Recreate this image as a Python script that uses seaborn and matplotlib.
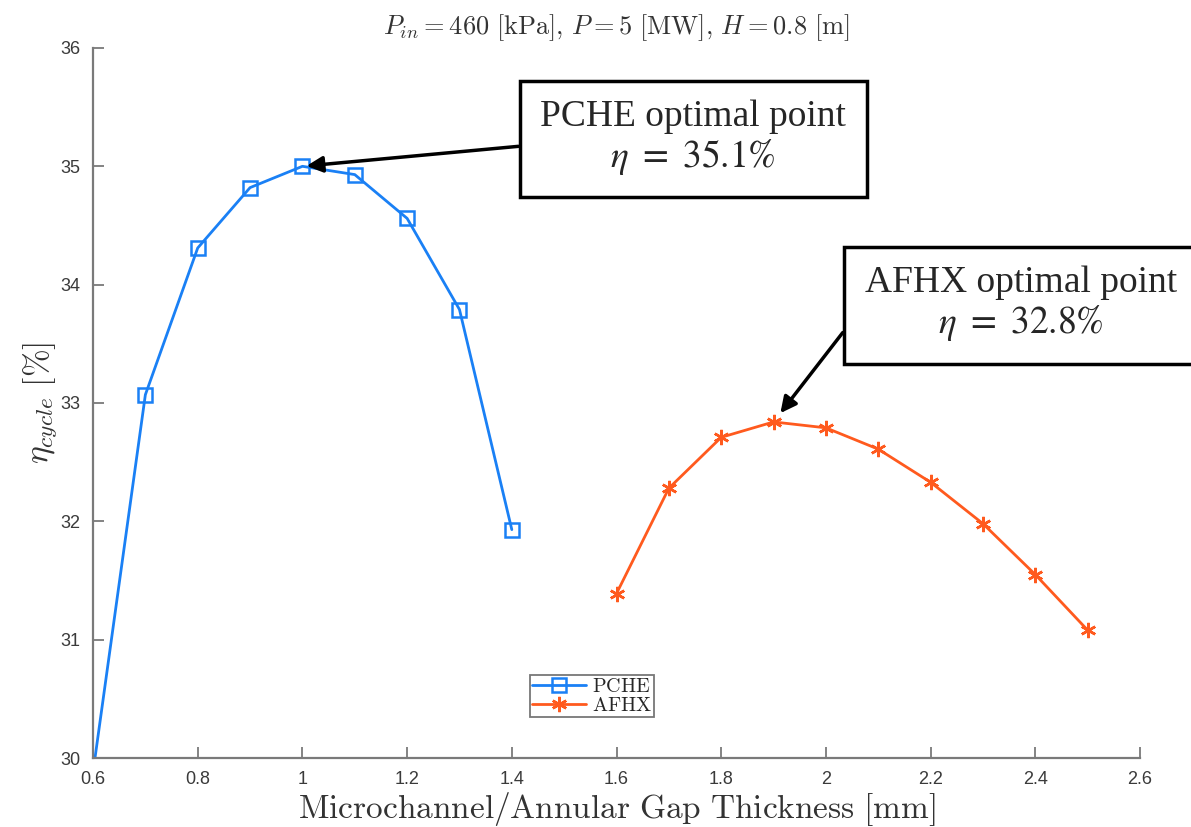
import matplotlib
matplotlib.use("Agg")
import matplotlib.pyplot as plt
import seaborn as sns
import pandas as pd

# Data
pche_x = [0.6, 0.7, 0.8, 0.9, 1.0, 1.1, 1.2, 1.3, 1.4]
pche_y = [29.88, 33.07, 34.31, 34.82, 35.00, 34.93, 34.56, 33.79, 31.93]
afhx_x = [1.6, 1.7, 1.8, 1.9, 2.0, 2.1, 2.2, 2.3, 2.4, 2.5]
afhx_y = [31.39, 32.28, 32.71, 32.84, 32.79, 32.61, 32.33, 31.98, 31.55, 31.08]
x_ticks = [0.6, 0.8, 1.0, 1.2, 1.4, 1.6, 1.8, 2.0, 2.2, 2.4, 2.6]
x_ticklabels = ["0.6", "0.8", "1", "1.2", "1.4", "1.6", "1.8", "2", "2.2", "2.4", "2.6"]
y_ticks = [30, 31, 32, 33, 34, 35, 36]

sns.set_theme(style="white")
plt.rcParams["mathtext.fontset"] = "cm"
plt.rcParams["font.family"] = ["Liberation Sans", "DejaVu Sans"]

pche_color = "#1a80f5"
afhx_color = "#ff5a1e"
axis_color = "#7a7a7a"

fig = plt.figure(figsize=(11.91, 8.27), dpi=100)
ax = fig.add_axes([0.0781, 0.0834, 0.8791, 0.8586])

df_p = pd.DataFrame({"x": pche_x, "y": pche_y})
df_a = pd.DataFrame({"x": afhx_x, "y": afhx_y})
sns.lineplot(data=df_p, x="x", y="y", ax=ax, color=pche_color, lw=2.0,
             marker="s", markersize=10, markerfacecolor="none",
             markeredgecolor=pche_color, markeredgewidth=1.8, label="PCHE")
sns.lineplot(data=df_a, x="x", y="y", ax=ax, color=afhx_color, lw=2.0,
             marker=(6, 2, 0), markersize=11, markeredgecolor=afhx_color,
             markeredgewidth=1.8, label="AFHX")

ax.set_xlim(0.6, 2.6)
ax.set_ylim(30, 36)
ax.set_xticks(x_ticks)
ax.set_xticklabels(x_ticklabels)
ax.set_yticks(y_ticks)

for s in ["top", "right"]:
    ax.spines[s].set_visible(False)
for s in ["left", "bottom"]:
    ax.spines[s].set_color(axis_color)
    ax.spines[s].set_linewidth(1.6)
ax.tick_params(axis="both", direction="in", length=8, width=1.3,
               color=axis_color, labelcolor="#3a3a3a", labelsize=13, pad=9,
               left=True, bottom=True)

ax.set_xlabel(r"$\mathrm{Microchannel/Annular\ Gap\ Thickness\ [mm]}$",
              fontsize=24, color="#333333", labelpad=2)
ax.set_ylabel(r"$\eta_{cycle}\ \mathrm{[\%]}$", fontsize=24, color="#333333",
              labelpad=1)
ax.set_title(r"$P_{in} = 460\ \mathrm{[kPa]},\, P = 5\ \mathrm{[MW]},\, H = 0.8\ \mathrm{[m]}$",
             fontsize=19, color="#333333", pad=10)

leg = ax.legend(loc="lower left", bbox_to_anchor=(0.417, 0.058), fontsize=14.5,
                frameon=True, fancybox=False, edgecolor="#555555",
                borderpad=0.1, handlelength=2.7, labelspacing=0.0,
                handletextpad=0.3, borderaxespad=0)
leg.get_frame().set_linewidth(1.3)
for t in leg.get_texts():
    t.set_fontfamily("serif")
    t.set_text(r"$\mathrm{%s}$" % t.get_text())

box = dict(boxstyle="square,pad=0.55", fc="white", ec="black", lw=2.5)
ax.annotate("PCHE optimal point\n$\\eta\\ =\\ 35.1\\%$", xy=(1.0, 35.0),
            xytext=(0.582, 0.833), textcoords="figure fraction",
            ha="center", va="center", fontsize=27, family="Liberation Serif",
            math_fontfamily="stix", bbox=box,
            arrowprops=dict(arrowstyle="-|>", color="black", lw=2.5,
                            mutation_scale=24, shrinkA=0, shrinkB=3,
                            relpos=(0, 0.42)),
            annotation_clip=False, linespacing=1.1)
ax.annotate("AFHX optimal point\n$\\eta\\ =\\ 32.8\\%$", xy=(1.9, 32.84),
            xytext=(0.857, 0.632), textcoords="figure fraction",
            ha="center", va="center", fontsize=27, family="Liberation Serif",
            math_fontfamily="stix", bbox=box,
            arrowprops=dict(arrowstyle="-|>", color="black", lw=2.5,
                            mutation_scale=24, shrinkA=0, shrinkB=8,
                            relpos=(0, 0.5)),
            annotation_clip=False, linespacing=1.1)

fig.savefig("out.png", dpi=100)
